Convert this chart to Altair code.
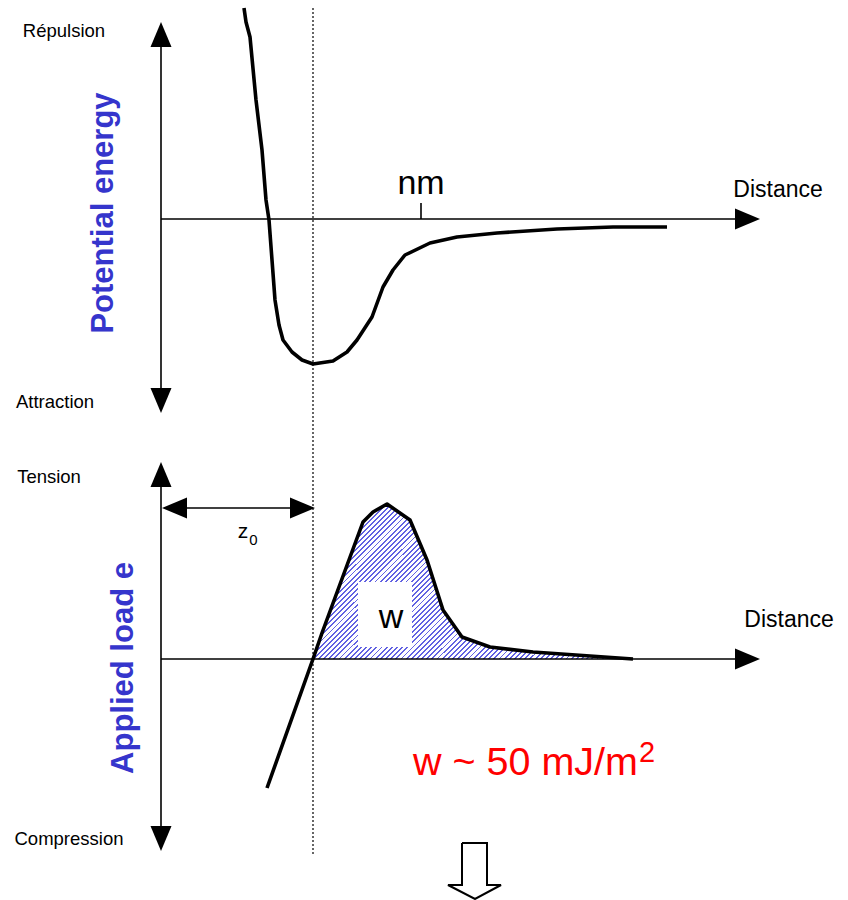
import altair as alt
import pandas as pd

# ---------------- data (diagram coordinates, y grows downward) ----------------
# Potential energy curve (Lennard-Jones like well)
pe_x = [244, 246, 250, 256, 262, 266, 269, 272, 275, 279, 283, 292, 302, 313, 333, 347, 357, 372, 383, 393, 405, 430, 457, 497, 557, 613, 667]
pe_y = [8, 22, 37, 100, 150, 200, 220, 260, 300, 325, 340, 352, 360, 364, 361, 352, 340, 317, 287, 270, 255, 243, 237, 233, 229, 227, 227]

# Applied load curve
load_x = [267, 313, 322, 363, 373, 387, 410, 427, 443, 462, 490, 533, 633]
load_y = [788, 659, 633, 522, 512, 504, 520, 560, 610, 637, 647, 652, 659]
load_zero = 659   # zero-load level (horizontal axis of lower panel)

# axis / guide segments: x, y, x2, y2
seg_x1 = [161, 161, 161, 161, 421, 165]
seg_y1 = [25, 219, 465, 659, 203, 508]
seg_x2 = [161, 740, 161, 740, 421, 310]
seg_y2 = [410, 219, 848, 659, 219, 508]

# dotted z0 guide
z0_x = 313
z0_top, z0_bottom = 8, 855

# arrowheads: tip position and direction
head_x = [161, 161, 760, 161, 161, 760, 162, 315]
head_y = [22, 413, 219, 462, 851, 659, 508, 508]
head_dir = ["up", "down", "right", "up", "down", "right", "left", "right"]

# hollow "next" arrow outline
hollow_x = [462, 487, 487, 501, 475, 448, 462, 462]
hollow_y = [843, 843, 885, 885, 899, 885, 885, 843]

# labels
small_txt = ["Répulsion", "Attraction", "Tension", "Compression"]
small_x = [64, 55, 49, 69]
small_y = [31, 402, 477, 839]

dist_txt = ["Distance", "Distance"]
dist_x = [778, 789]
dist_y = [190, 620]

W = 848
H = 900

xs = alt.Scale(domain=[0, W], nice=False, zero=False)
ys = alt.Scale(domain=[0, H], nice=False, zero=False, reverse=True)
FONT = "Liberation Sans"
BLUE = "#3535cc"


def X(f, **kw):
    return alt.X(f, type="quantitative", scale=xs, axis=None, **kw)


def Y(f, **kw):
    return alt.Y(f, type="quantitative", scale=ys, axis=None, **kw)


# ---------------- hatched area under the tension part ----------------
area_df = pd.DataFrame({"x": load_x[1:], "y": load_y[1:], "y0": load_zero})
n_stripes = 92
duty = 0.36
stripe = "#6262e2"
stops = []
for i in range(n_stripes):
    a = i / n_stripes
    b = (i + duty) / n_stripes
    c = (i + 1) / n_stripes
    stops += [
        {"offset": a, "color": stripe},
        {"offset": b, "color": stripe},
        {"offset": b, "color": "#ffffff"},
        {"offset": c, "color": "#ffffff"},
    ]
grad = {"gradient": "linear", "x1": 0, "y1": 0, "x2": 1.2, "y2": 0.583, "stops": stops}
area = alt.Chart(area_df).mark_area(color=grad, line=False).encode(
    x=X("x"), y=Y("y"), y2=alt.Y2("y0")
)

box_df = pd.DataFrame({"x": [358], "x2": [412], "y": [582], "y2": [647]})
box = alt.Chart(box_df).mark_rect(color="white").encode(
    x=X("x"), x2="x2", y=Y("y"), y2="y2"
)

# ---------------- axes ----------------
seg_df = pd.DataFrame({"x": seg_x1, "y": seg_y1, "x2": seg_x2, "y2": seg_y2})
segs = alt.Chart(seg_df).mark_rule(color="black", strokeWidth=1.6).encode(
    x=X("x"), y=Y("y"), x2="x2", y2="y2"
)

dot_df = pd.DataFrame({"x": [z0_x], "y": [z0_top], "y2": [z0_bottom]})
dotted = alt.Chart(dot_df).mark_rule(color="black", strokeWidth=1.2, strokeDash=[2, 2]).encode(
    x=X("x"), y=Y("y"), y2="y2"
)

paths = {
    "up": "M0,0L0.84,2L-0.84,2Z",
    "down": "M0,0L0.84,-2L-0.84,-2Z",
    "right": "M0,0L-2,0.84L-2,-0.84Z",
    "left": "M0,0L2,0.84L2,-0.84Z",
}
head_layers = []
for d in ["up", "down", "right", "left"]:
    sub = pd.DataFrame(
        {"x": [x for x, dd in zip(head_x, head_dir) if dd == d],
         "y": [y for y, dd in zip(head_y, head_dir) if dd == d]}
    )
    head_layers.append(
        alt.Chart(sub).mark_point(shape=paths[d], filled=True, color="black", size=625, opacity=1, strokeWidth=0).encode(
            x=X("x"), y=Y("y")
        )
    )

# ---------------- curves ----------------
pe_df = pd.DataFrame({"x": pe_x, "y": pe_y, "i": range(len(pe_x))})
pe_line = alt.Chart(pe_df).mark_line(color="black", strokeWidth=3.6, strokeJoin="round").encode(
    x=X("x"), y=Y("y"), order="i:Q"
)
ld_df = pd.DataFrame({"x": load_x, "y": load_y, "i": range(len(load_x))})
ld_line = alt.Chart(ld_df).mark_line(color="black", strokeWidth=3.6, strokeJoin="round").encode(
    x=X("x"), y=Y("y"), order="i:Q"
)

hol_df = pd.DataFrame({"x": hollow_x, "y": hollow_y, "i": range(len(hollow_x))})
hollow = alt.Chart(hol_df).mark_line(color="black", strokeWidth=2, strokeJoin="miter").encode(
    x=X("x"), y=Y("y"), order="i:Q"
)

# ---------------- texts ----------------
def txt(df, **kw):
    return alt.Chart(df).mark_text(font=FONT, **kw).encode(x=X("x"), y=Y("y"), text="t:N")


small = txt(pd.DataFrame({"x": small_x, "y": small_y, "t": small_txt}),
            fontSize=18.5, color="black", baseline="middle", align="center")
dist = txt(pd.DataFrame({"x": dist_x, "y": dist_y, "t": dist_txt}),
           fontSize=23, color="black", baseline="middle", align="center")
big = txt(pd.DataFrame({"x": [421, 391], "y": [194, 628], "t": ["nm", "w"]}),
          fontSize=34, color="black", baseline="alphabetic", align="center")
zlab = txt(pd.DataFrame({"x": [243], "y": [538], "t": ["z"]}),
           fontSize=21, color="black", baseline="alphabetic", align="center")
zsub = txt(pd.DataFrame({"x": [253.5], "y": [545], "t": ["0"]}),
           fontSize=15, color="black", baseline="alphabetic", align="center")
red = txt(pd.DataFrame({"x": [413], "y": [775], "t": ["w ~ 50 mJ/m"]}),
          fontSize=39.5, color="#ff0000", baseline="alphabetic", align="left")
red_sup = txt(pd.DataFrame({"x": [639], "y": [762], "t": ["2"]}),
              fontSize=29, color="#ff0000", baseline="alphabetic", align="left")
titles = txt(pd.DataFrame({"x": [113, 133], "y": [213, 668], "t": ["Potential energy", "Applied load e"]}),
             fontSize=31, fontWeight="bold", color=BLUE, baseline="alphabetic", align="center", angle=270)

chart = alt.layer(
    area, box, segs, dotted, pe_line, ld_line, hollow, *head_layers,
    small, dist, big, zlab, zsub, red, red_sup, titles
).properties(
    width=W, height=H, padding=0, autosize="none", background="white"
).configure_view(stroke=None)

chart.save("out.html", embed_options={"renderer": "svg", "actions": False})
